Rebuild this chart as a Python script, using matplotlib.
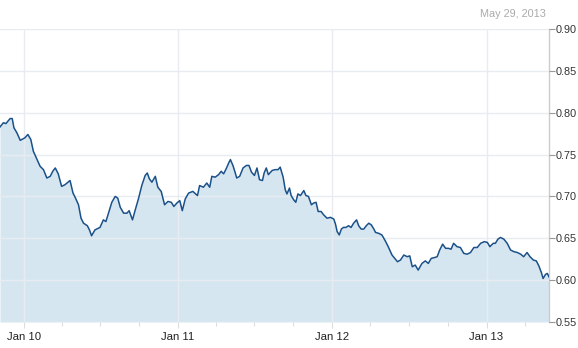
import pandas as pd
import matplotlib
matplotlib.use("Agg")
import matplotlib.pyplot as plt
import matplotlib.dates as mdates

plt.rcParams['font.family'] = ['Liberation Sans', 'DejaVu Sans']

dates = [
    "2009-11-05", "2009-11-13", "2009-11-19", "2009-11-29", "2009-12-04", "2009-12-08",
    "2009-12-15", "2009-12-23", "2010-01-03", "2010-01-10", "2010-01-17", "2010-01-23",
    "2010-01-31", "2010-02-08", "2010-02-16", "2010-02-24", "2010-03-04", "2010-03-10",
    "2010-03-16", "2010-03-23", "2010-03-31", "2010-04-08", "2010-04-20", "2010-04-27",
    "2010-05-02", "2010-05-10", "2010-05-16", "2010-05-22", "2010-05-31", "2010-06-05",
    "2010-06-10", "2010-06-18", "2010-06-30", "2010-07-08", "2010-07-14", "2010-07-20",
    "2010-07-28", "2010-08-05", "2010-08-11", "2010-08-17", "2010-08-25", "2010-09-02",
    "2010-09-07", "2010-09-15", "2010-09-21", "2010-09-29", "2010-10-07", "2010-10-15",
    "2010-10-20", "2010-10-25", "2010-10-31", "2010-11-08", "2010-11-14", "2010-11-22",
    "2010-11-30", "2010-12-08", "2010-12-16", "2010-12-22", "2010-12-29", "2011-01-05",
    "2011-01-11", "2011-01-18", "2011-01-26", "2011-02-05", "2011-02-16", "2011-02-21",
    "2011-03-02", "2011-03-10", "2011-03-17", "2011-03-22", "2011-03-30", "2011-04-07",
    "2011-04-13", "2011-04-19", "2011-04-25", "2011-05-01", "2011-05-05", "2011-05-11",
    "2011-05-16", "2011-05-20", "2011-05-27", "2011-06-04", "2011-06-12", "2011-06-18",
    "2011-06-24", "2011-07-01", "2011-07-07", "2011-07-13", "2011-07-20", "2011-07-24",
    "2011-07-29", "2011-08-03", "2011-08-12", "2011-08-19", "2011-08-26", "2011-08-31",
    "2011-09-07", "2011-09-12", "2011-09-16", "2011-09-22", "2011-09-26", "2011-10-02",
    "2011-10-07", "2011-10-12", "2011-10-18", "2011-10-26", "2011-10-31", "2011-11-06",
    "2011-11-13", "2011-11-18", "2011-11-24", "2011-11-29", "2011-12-06", "2011-12-12",
    "2011-12-20", "2011-12-28", "2012-01-05", "2012-01-09", "2012-01-13", "2012-01-18",
    "2012-01-23", "2012-01-28", "2012-02-03", "2012-02-09", "2012-02-15", "2012-02-21",
    "2012-02-28", "2012-03-04", "2012-03-10", "2012-03-16", "2012-03-22", "2012-03-28",
    "2012-04-03", "2012-04-09", "2012-04-13", "2012-04-20", "2012-04-28", "2012-05-06",
    "2012-05-13", "2012-05-22", "2012-05-30", "2012-06-04", "2012-06-11", "2012-06-19",
    "2012-06-27", "2012-07-03", "2012-07-09", "2012-07-16", "2012-07-23", "2012-08-01",
    "2012-08-09", "2012-08-16", "2012-08-23", "2012-08-31", "2012-09-06", "2012-09-12",
    "2012-09-19", "2012-09-26", "2012-10-03", "2012-10-09", "2012-10-15", "2012-10-23",
    "2012-10-31", "2012-11-08", "2012-11-16", "2012-11-24", "2012-12-02", "2012-12-10",
    "2012-12-18", "2012-12-27", "2013-01-03", "2013-01-09", "2013-01-17", "2013-01-22",
    "2013-01-28", "2013-02-03", "2013-02-11", "2013-02-19", "2013-02-27", "2013-03-07",
    "2013-03-15", "2013-03-23", "2013-03-30", "2013-04-07", "2013-04-14", "2013-04-22",
    "2013-04-29", "2013-05-05", "2013-05-11", "2013-05-15", "2013-05-21", "2013-05-25",
    "2013-05-29",
]

values = [
    0.783, 0.788, 0.787, 0.793, 0.793, 0.782,
    0.776, 0.767, 0.770, 0.774, 0.768, 0.754,
    0.745, 0.736, 0.732, 0.722, 0.724, 0.730,
    0.734, 0.727, 0.712, 0.714, 0.719, 0.704,
    0.699, 0.690, 0.674, 0.668, 0.665, 0.660,
    0.653, 0.660, 0.663, 0.672, 0.670, 0.680,
    0.693, 0.700, 0.698, 0.687, 0.680, 0.680,
    0.683, 0.672, 0.683, 0.697, 0.713, 0.725,
    0.728, 0.721, 0.717, 0.724, 0.711, 0.706,
    0.690, 0.694, 0.693, 0.688, 0.692, 0.695,
    0.683, 0.697, 0.704, 0.706, 0.701, 0.713,
    0.711, 0.716, 0.711, 0.724, 0.723, 0.726,
    0.730, 0.727, 0.733, 0.740, 0.744, 0.737,
    0.729, 0.722, 0.724, 0.734, 0.737, 0.737,
    0.729, 0.725, 0.734, 0.720, 0.719, 0.728,
    0.734, 0.726, 0.731, 0.732, 0.732, 0.735,
    0.723, 0.708, 0.703, 0.710, 0.701, 0.696,
    0.693, 0.703, 0.701, 0.707, 0.701, 0.700,
    0.690, 0.692, 0.693, 0.682, 0.682, 0.678,
    0.674, 0.675, 0.673, 0.667, 0.658, 0.654,
    0.661, 0.663, 0.663, 0.665, 0.663, 0.668,
    0.672, 0.665, 0.661, 0.661, 0.665, 0.668,
    0.666, 0.661, 0.657, 0.656, 0.654, 0.647,
    0.640, 0.630, 0.625, 0.622, 0.624, 0.630,
    0.628, 0.629, 0.616, 0.618, 0.612, 0.620,
    0.623, 0.620, 0.626, 0.627, 0.628, 0.636,
    0.643, 0.638, 0.638, 0.637, 0.644, 0.640,
    0.639, 0.632, 0.631, 0.633, 0.639, 0.639,
    0.644, 0.646, 0.645, 0.640, 0.644, 0.644,
    0.649, 0.651, 0.649, 0.644, 0.636, 0.634,
    0.633, 0.631, 0.628, 0.633, 0.628, 0.624,
    0.623, 0.617, 0.609, 0.602, 0.607, 0.608,
    0.604,
]

y_ticks = [0.55, 0.60, 0.65, 0.70, 0.75, 0.80, 0.85, 0.90]
stamp = "May 29, 2013"

x = pd.to_datetime(dates)

fig = plt.figure(figsize=(5.78, 3.48), dpi=100)
ax = fig.add_axes([0.0, 0.0747, 0.9498, 0.842])

ax.fill_between(x, values, 0.55, color="#d6e6f1", lw=0, zorder=2)
ax.plot(x, values, color="#1b5189", lw=1.1, zorder=3)

ax.set_xlim(x[0], x[-1])
ax.set_ylim(0.55, 0.90)

ax.yaxis.tick_right()
ax.set_yticks(y_ticks)
ax.set_yticklabels([f"{v:.2f}" for v in y_ticks])

ax.xaxis.set_major_locator(mdates.YearLocator())
ax.xaxis.set_major_formatter(mdates.DateFormatter("Jan %y"))
ax.xaxis.set_minor_locator(mdates.MonthLocator(bymonth=[4, 7, 10]))

ax.grid(True, which="major", color="#e8ecf1", lw=1, zorder=4)
ax.set_axisbelow(False)

for s in ["left", "top", "bottom"]:
    ax.spines[s].set_visible(False)
ax.spines["right"].set_color("#cccccc")
ax.spines["right"].set_linewidth(1)

ax.tick_params(axis="y", which="major", length=4, width=0.8, color="#999999",
               labelsize=7.8, labelcolor="#333333", pad=1)
ax.tick_params(axis="x", which="major", length=4, width=0.8, color="#dddddd",
               labelsize=8.2, labelcolor="#222222", pad=3)
ax.tick_params(axis="x", which="minor", length=3, width=0.8, color="#dddddd")

fig.text(0.945, 0.945, stamp, ha="right", va="bottom", fontsize=7.8, color="#aaaaaa")

fig.savefig("out.png", dpi=100)
